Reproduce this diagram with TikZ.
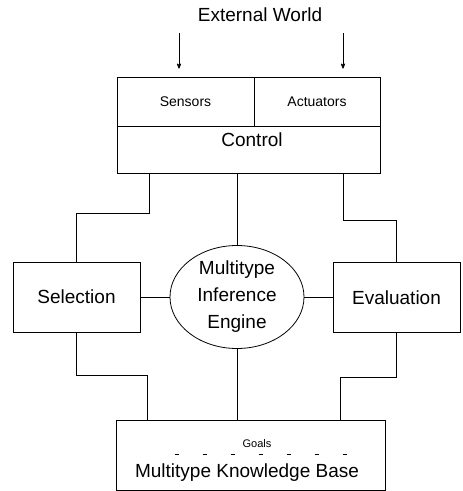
\documentclass[tikz,border=0pt]{standalone}
\usepackage{fontspec}
\setmainfont{Liberation Sans}
\usepackage{tikz}
\usetikzlibrary{arrows, shapes.geometric}

\tikzset{
  box/.style={draw, rectangle, inner sep=0pt},
  big/.style={font=\fontsize{19}{27}\selectfont},
  small/.style={font=\fontsize{14}{16}\selectfont},
}

\begin{document}
\begin{tikzpicture}[x=1pt,y=-1pt,line width=0.8pt,>=stealth']
    \useasboundingbox (0,0) rectangle (463,491);

    \node[big] (world) at (260,15) {External World};
    \coordinate (inS) at (179,33);
    \coordinate (inA) at (343,33);

    \node[box,small,minimum width=137pt,minimum height=49pt] (sensors) at (185.5,101.5) {Sensors};
    \node[box,small,minimum width=126pt,minimum height=49pt] (actuators) at (317,101.5) {Actuators};
    \node[box,minimum width=263pt,minimum height=47pt] (control) at (248.5,149.5) {};
    \node[big] (controltxt) at (252,140) {Control};

    \node[box,big,minimum width=127pt,minimum height=70pt] (selection) at (76.5,297) {Selection};
    \node[draw,ellipse,big,align=center,inner sep=0pt,minimum width=134pt,minimum height=103pt] (engine) at (237,297) {Multitype\\Inference\\Engine};
    \node[box,big,minimum width=127pt,minimum height=70pt] (evaluation) at (396.5,297.5) {Evaluation};

    \node[box,minimum width=269pt,minimum height=70pt] (kb) at (250.5,455) {};
    \node[font=\fontsize{11}{13}\selectfont] (goals) at (257,444) {Goals};
    \node[big] (kbtxt) at (247,473) {Multitype Knowledge Base};
    \draw[dash pattern=on 4pt off 24pt] ([xshift=59pt,yshift=-35pt]kb.north west) -- ([xshift=-22pt,yshift=-35pt]kb.north east);

    \draw[->,shorten >=8pt] (inS) -- (inS |- sensors.north);
    \draw[->,shorten >=8pt] (inA) -- (inA |- actuators.north);

    \draw ([xshift=33pt]control.south west) -- ++(0,40) -| (selection.north);
    \draw (control.south -| engine.north) -- (engine.north);
    \draw ([xshift=-37pt]control.south east) -- ++(0,47) -| (evaluation.north);

    \draw (selection.east) -- (engine.west);
    \draw (engine.east) -- (engine.east -| evaluation.west);

    \draw (selection.south) -- ++(0,43) -| ([xshift=32pt]kb.north west);
    \draw (engine.south) -- (engine.south |- kb.north);
    \draw (evaluation.south) -- ++(0,44) -| ([xshift=-45pt]kb.north east);
\end{tikzpicture}
\end{document}
